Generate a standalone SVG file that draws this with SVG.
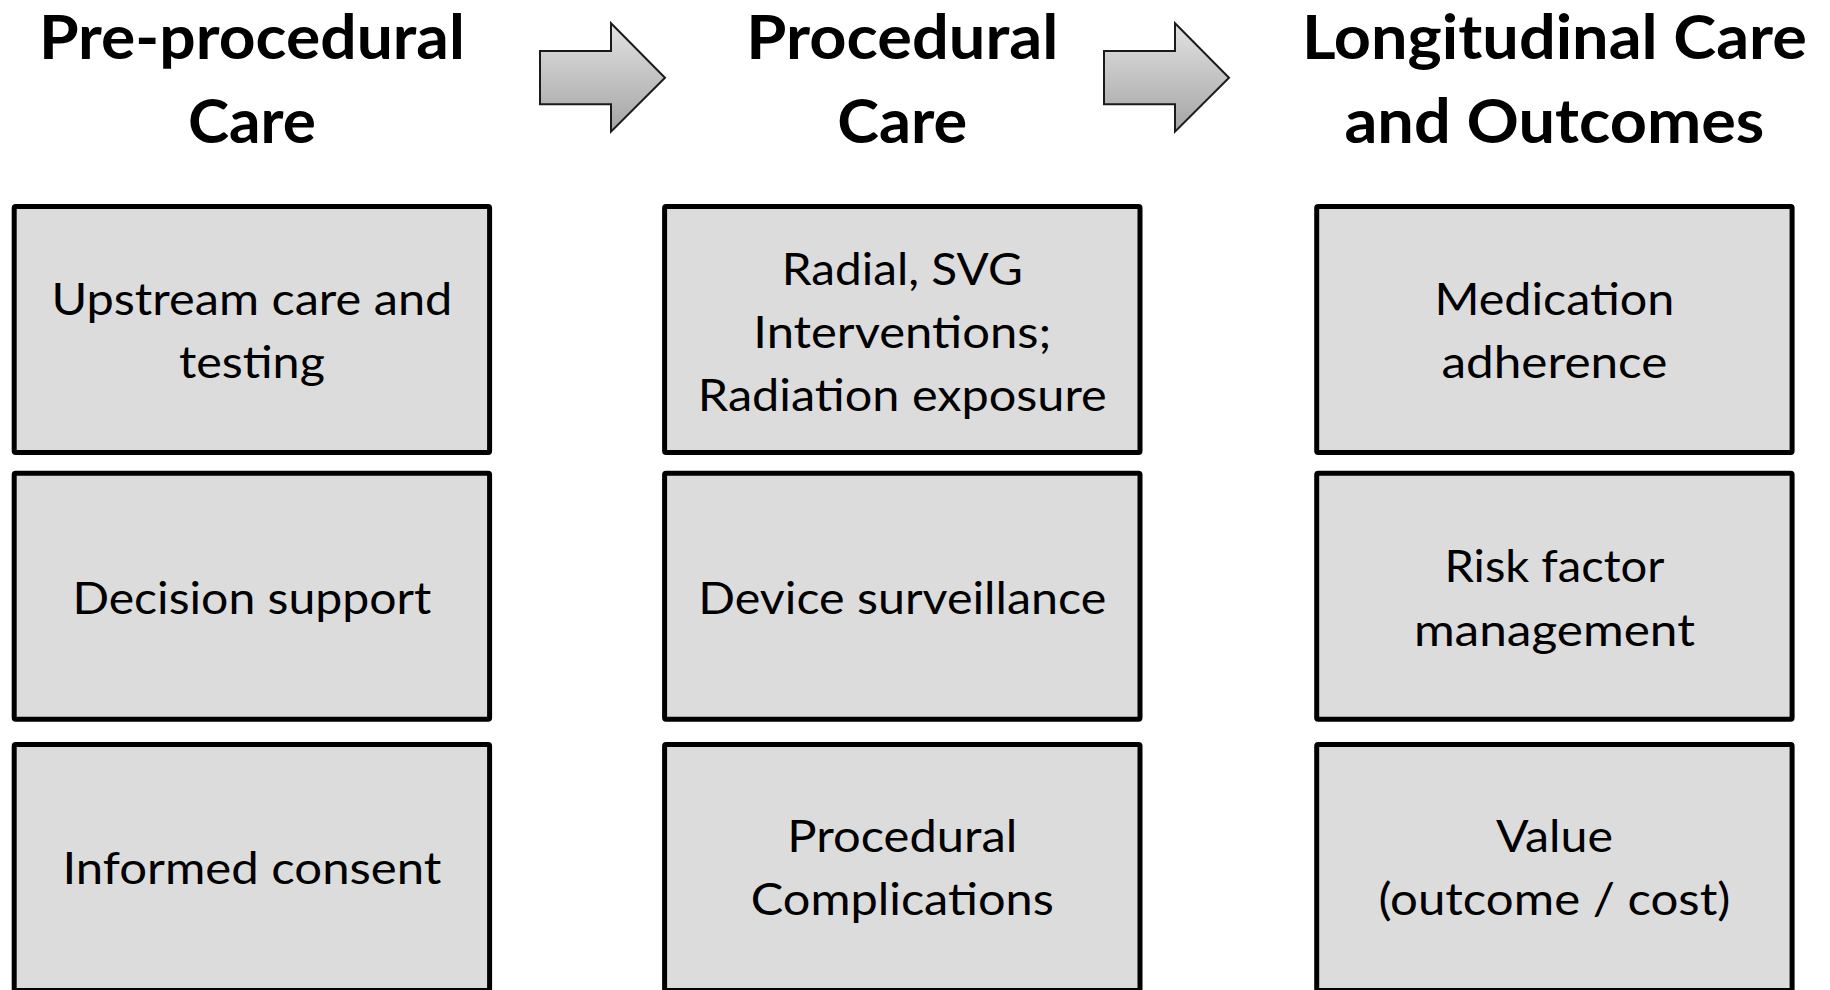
<svg xmlns="http://www.w3.org/2000/svg" width="1830" height="990" viewBox="0 0 1830 990">
  <style>
    .box { fill: #dcdcdc; stroke: #000; stroke-width: 5; stroke-linejoin: round; }
    .head { font-family: Lato, "Open Sans", "Liberation Sans", sans-serif; font-weight: 700; font-size: 61.5px; fill: #000; text-anchor: middle; }
    .lbl { font-family: Lato, "Open Sans", "Liberation Sans", sans-serif; font-weight: 400; font-size: 44.5px; fill: #000; text-anchor: middle; }
    .flow { fill: url(#arrowFill); stroke: #1a1a1a; stroke-width: 2; stroke-linejoin: miter; }
  </style>
  <defs>
    <linearGradient id="arrowFill" x1="0" y1="0" x2="0" y2="1">
      <stop offset="0" stop-color="#e2e2e2"/>
      <stop offset="1" stop-color="#a4a4a4"/>
    </linearGradient>
  </defs>
  <rect width="1830" height="990" fill="#fff"/>

  <!-- column headings -->
  <g id="head-pre">
    <text class="head" x="251.9" y="58.5" textLength="426" lengthAdjust="spacingAndGlyphs">Pre-procedural</text>
    <text class="head" x="251.9" y="143" textLength="128" lengthAdjust="spacingAndGlyphs">Care</text>
  </g>
  <g id="head-proc">
    <text class="head" x="902.3" y="58.5" textLength="312" lengthAdjust="spacingAndGlyphs">Procedural</text>
    <text class="head" x="902.3" y="143" textLength="130" lengthAdjust="spacingAndGlyphs">Care</text>
  </g>
  <g id="head-long">
    <text class="head" x="1554.4" y="58.5" textLength="505" lengthAdjust="spacingAndGlyphs">Longitudinal Care</text>
    <text class="head" x="1554.4" y="143" textLength="420" lengthAdjust="spacingAndGlyphs">and Outcomes</text>
  </g>

  <!-- block arrows between the phases -->
  <g id="connectors">
    <polygon class="flow" points="540,51 611,51 611,23.3 665,77.7 611,131.7 611,104.3 540,104.3"/>
    <polygon class="flow" points="1104,51 1175,51 1175,23.3 1229,77.7 1175,131.7 1175,104.3 1104,104.3"/>
  </g>

  <!-- pre-procedural column -->
  <g id="upstream">
    <rect class="box" x="14.2" y="206.5" width="475.4" height="246" rx="1.5"/>
    <text class="lbl" x="251.9" y="315" textLength="401" lengthAdjust="spacingAndGlyphs">Upstream care and</text>
    <text class="lbl" x="251.9" y="378.3" textLength="146" lengthAdjust="spacingAndGlyphs">testing</text>
  </g>
  <g id="decision">
    <rect class="box" x="14.2" y="473.2" width="475.4" height="246" rx="1.5"/>
    <text class="lbl" x="251.9" y="614" textLength="359" lengthAdjust="spacingAndGlyphs">Decision support</text>
  </g>
  <g id="consent">
    <rect class="box" x="14.2" y="744.5" width="475.4" height="246" rx="1.5"/>
    <text class="lbl" x="251.9" y="883.7" textLength="379" lengthAdjust="spacingAndGlyphs">Informed consent</text>
  </g>

  <!-- procedural column -->
  <g id="interventions">
    <rect class="box" x="664.6" y="206.5" width="475.4" height="246" rx="1.5"/>
    <text class="lbl" x="902.3" y="284.5" textLength="241" lengthAdjust="spacingAndGlyphs">Radial, SVG</text>
    <text class="lbl" x="902.3" y="347.8" textLength="298" lengthAdjust="spacingAndGlyphs">Interventions;</text>
    <text class="lbl" x="902.3" y="411.1" textLength="409" lengthAdjust="spacingAndGlyphs">Radiation exposure</text>
  </g>
  <g id="device">
    <rect class="box" x="664.6" y="473.2" width="475.4" height="246" rx="1.5"/>
    <text class="lbl" x="902.3" y="614" textLength="408" lengthAdjust="spacingAndGlyphs">Device surveillance</text>
  </g>
  <g id="complications">
    <rect class="box" x="664.6" y="744.5" width="475.4" height="246" rx="1.5"/>
    <text class="lbl" x="902.3" y="852" textLength="230" lengthAdjust="spacingAndGlyphs">Procedural</text>
    <text class="lbl" x="902.3" y="915.3" textLength="303" lengthAdjust="spacingAndGlyphs">Complications</text>
  </g>

  <!-- longitudinal column -->
  <g id="medication">
    <rect class="box" x="1316.7" y="206.5" width="475.4" height="246" rx="1.5"/>
    <text class="lbl" x="1554.4" y="315" textLength="240" lengthAdjust="spacingAndGlyphs">Medication</text>
    <text class="lbl" x="1554.4" y="378.3" textLength="226" lengthAdjust="spacingAndGlyphs">adherence</text>
  </g>
  <g id="risk">
    <rect class="box" x="1316.7" y="473.2" width="475.4" height="246" rx="1.5"/>
    <text class="lbl" x="1554.4" y="582.2" textLength="220" lengthAdjust="spacingAndGlyphs">Risk factor</text>
    <text class="lbl" x="1554.4" y="645.5" textLength="281" lengthAdjust="spacingAndGlyphs">management</text>
  </g>
  <g id="value">
    <rect class="box" x="1316.7" y="744.5" width="475.4" height="246" rx="1.5"/>
    <text class="lbl" x="1554.4" y="852" textLength="117" lengthAdjust="spacingAndGlyphs">Value</text>
    <text class="lbl" x="1554.4" y="915.3" textLength="352" lengthAdjust="spacingAndGlyphs">(outcome / cost)</text>
  </g>
</svg>
